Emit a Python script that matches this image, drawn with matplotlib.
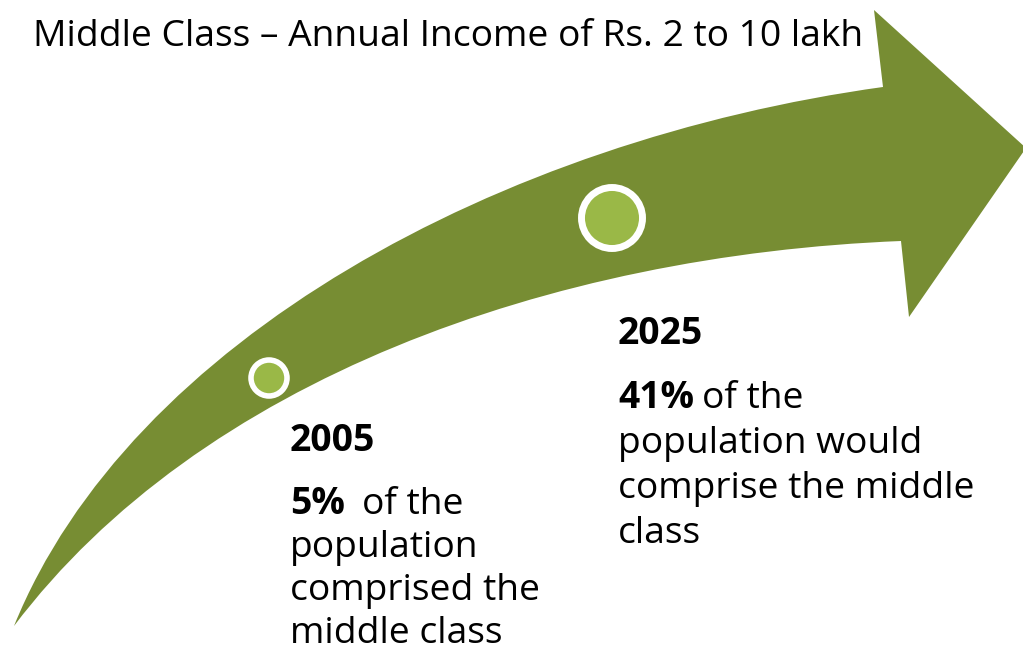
import matplotlib.pyplot as plt
from matplotlib.path import Path
from matplotlib.patches import PathPatch, Circle

# text content
title = "Middle Class \u2013 Annual Income of Rs. 2 to 10 lakh"
years = ["2005", "2025"]
shares = ["5%", "41%"]
rest_first = ["of the", "of the"]
rest_lines = [["population", "comprised the", "middle class"],
              ["population would", "comprise the middle", "class"]]

arrow_green = "#778D33"
dot_green = "#9AB847"
font = ["Open Sans", "DejaVu Sans"]

fig = plt.figure(figsize=(10.23, 6.56), dpi=100)
ax = fig.add_axes([0, 0, 1, 1])
ax.set_xlim(0, 1023)
ax.set_ylim(656, 0)
ax.axis("off")

# curved arrow (pixel coords, y down)
verts = [
    (14, 626),
    (130, 340), (500, 140), (883, 87),   # upper edge
    (874, 10),
    (1026, 148),
    (909, 317),
    (901, 241),
    (550, 255), (200, 380), (14, 626),   # lower edge back to tail
    (14, 626),
]
codes = [Path.MOVETO,
         Path.CURVE4, Path.CURVE4, Path.CURVE4,
         Path.LINETO, Path.LINETO, Path.LINETO, Path.LINETO,
         Path.CURVE4, Path.CURVE4, Path.CURVE4,
         Path.CLOSEPOLY]
ax.add_patch(PathPatch(Path(verts, codes), facecolor=arrow_green, edgecolor="none"))

# milestone dots
for (cx, cy), r, lw in [((269, 378), 18, 4), ((612, 218), 30.5, 5)]:
    ax.add_patch(Circle((cx, cy), r, facecolor=dot_green, edgecolor="white", linewidth=lw))

fs = 26.8
ax.text(33, 46, title, fontsize=fs, family=font, va="baseline", ha="left")

# text blocks
blocks = [
    dict(x=290, year_y=451, first_y=514, gap=43, rest_x=362),
    dict(x=618, year_y=344, first_y=408, gap=45, rest_x=702),
]
for i, b in enumerate(blocks):
    ax.text(b["x"], b["year_y"], years[i], fontsize=fs, family=font,
            fontweight="bold", va="baseline")
    ax.text(b["x"], b["first_y"], shares[i], fontsize=fs, family=font,
            fontweight="bold", va="baseline")
    ax.text(b["rest_x"], b["first_y"], rest_first[i], fontsize=fs, family=font,
            va="baseline")
    for j, line in enumerate(rest_lines[i]):
        ax.text(b["x"], b["first_y"] + (j + 1) * b["gap"], line, fontsize=fs,
                family=font, va="baseline")

fig.savefig("out.png", dpi=100)
